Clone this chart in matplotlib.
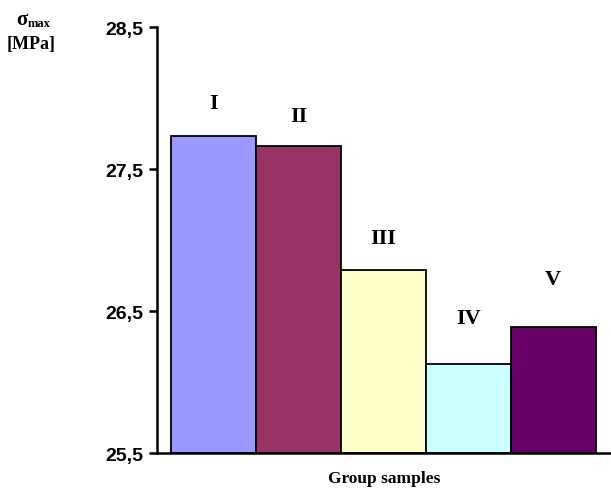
import matplotlib.pyplot as plt
from matplotlib.ticker import FixedLocator

groups = ['I', 'II', 'III', 'IV', 'V']
sigma_max = [27.73, 27.66, 26.79, 26.13, 26.39]
bar_colors = ['#9999FF', '#993366', '#FFFFCC', '#CCFFFF', '#660066']
y_ticks = [25.5, 26.5, 27.5, 28.5]
y_tick_labels = ['25,5', '26,5', '27,5', '28,5']
label_offsets = [24, 22, 23, 33, 34]      # label height above bar top, in points

fig = plt.figure(figsize=(6.11, 4.89), dpi=100)
ax = fig.add_axes([157 / 611, 1 - 454 / 489, 1 - 157 / 611, (454 - 28) / 489])

x = list(range(len(groups)))
ax.bar(x, [v - 25.5 for v in sigma_max], bottom=25.5, width=1.0, align='edge',
       color=bar_colors, edgecolor='black', linewidth=1.3, zorder=2)

for xi, v, name, off in zip(x, sigma_max, groups, label_offsets):
    ax.annotate(name, (xi + 0.5, v), xytext=(0, off), textcoords='offset points',
                ha='center', va='center', fontsize=16, fontweight='bold',
                family='Liberation Serif')

ax.set_xlim(-0.165, 5.18)
ax.set_ylim(25.5, 28.5)
ax.yaxis.set_major_locator(FixedLocator(y_ticks))
ax.set_yticklabels(y_tick_labels, fontsize=14, fontweight='bold', family='Liberation Sans')
ax.set_xticks([])
ax.tick_params(axis='y', direction='out', length=6, width=1.8, pad=4)

for side in ['top', 'right']:
    ax.spines[side].set_visible(False)
for side in ['left', 'bottom']:
    ax.spines[side].set_linewidth(1.8)
ax.spines['bottom'].set_zorder(3)

ax.set_xlabel('Group samples', fontsize=12.5, fontweight='bold', family='Liberation Serif', labelpad=12)

# y axis label: sigma with "max" subscript, then the unit
fig.text(28 / 611, 1 - 20 / 489, 'σ', ha='right', va='center', fontsize=15,
         fontweight='bold', family='Liberation Serif')
fig.text(28 / 611, 1 - 24 / 489, 'max', ha='left', va='center', fontsize=9,
         fontweight='bold', family='Liberation Serif')
fig.text(31 / 611, 1 - 45 / 489, '[MPa]', ha='center', va='center', fontsize=13,
         fontweight='bold', family='Liberation Serif')

plt.savefig('out.png', dpi=100)
